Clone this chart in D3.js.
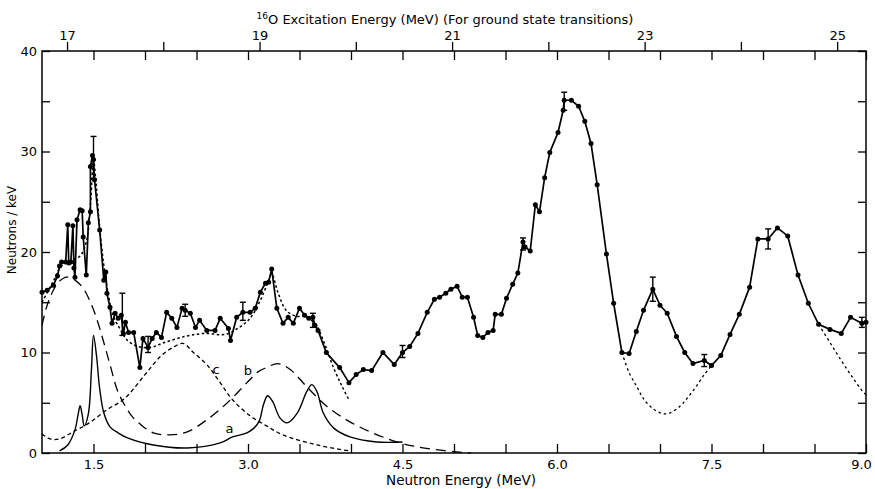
<!DOCTYPE html>
<html>
<head>
<meta charset="utf-8">
<script src="https://cdn.jsdelivr.net/npm/d3@7"></script>
<style>
  body { margin: 0; background: #fff; }
  svg text { font-family: "DejaVu Sans", sans-serif; fill: #000; }
</style>
</head>
<body>
<script>
// measured neutron spectrum: [neutron energy MeV, neutrons/keV]
const spectrum = [
  [1.00,16.0],[1.05,16.2],[1.11,16.7],[1.15,17.6],[1.17,18.6],[1.19,19.0],[1.23,19.0],
  [1.25,22.7],[1.26,18.9],[1.28,19.0],[1.30,22.6],[1.31,18.4],[1.32,17.5],[1.34,23.2],
  [1.37,24.2],[1.39,24.1],[1.40,21.5],[1.43,17.7],[1.45,22.9],[1.47,24.0],[1.47,28.5],
  [1.49,29.6],[1.50,29.2],[1.51,27.2],[1.56,22.2],[1.60,17.2],[1.62,18.0],[1.63,15.9],
  [1.66,14.5],[1.68,12.9],[1.71,13.9],[1.74,13.4],[1.77,13.7],[1.79,11.9],[1.81,13.0],
  [1.84,12.0],[1.89,12.0],[1.95,8.5],[1.98,11.4],[2.03,10.5],[2.07,11.4],[2.11,12.0],
  [2.16,11.5],[2.21,14.0],[2.26,13.4],[2.31,12.5],[2.36,14.4],[2.39,14.2],[2.44,13.9],
  [2.49,12.5],[2.53,13.2],[2.60,12.2],[2.68,12.2],[2.73,13.4],[2.81,12.4],[2.83,11.2],
  [2.89,13.5],[2.95,14.0],[3.02,14.0],[3.07,14.4],[3.12,16.0],[3.17,16.9],[3.20,17.0],
  [3.23,18.3],[3.28,14.4],[3.34,12.9],[3.39,13.5],[3.44,12.9],[3.50,14.4],[3.55,13.7],
  [3.59,13.4],[3.63,13.5],[3.65,12.7],[3.68,12.2],[3.76,10.0],[3.89,8.5],[3.98,7.0],
  [4.05,7.8],[4.12,8.3],[4.20,8.2],[4.31,10.0],[4.42,8.8],[4.50,10.0],[4.57,10.6],
  [4.65,11.9],[4.74,14.0],[4.81,15.3],[4.86,15.5],[4.92,15.9],[4.97,16.3],[5.03,16.6],
  [5.08,15.5],[5.13,15.5],[5.19,13.5],[5.23,11.7],[5.28,11.5],[5.33,12.0],[5.38,12.2],
  [5.40,13.8],[5.46,13.8],[5.51,15.4],[5.57,16.8],[5.62,17.9],[5.67,21.0],[5.69,20.5],
  [5.74,20.1],[5.79,24.7],[5.83,24.0],[5.88,27.4],[5.93,29.9],[6.01,31.9],[6.06,34.1],
  [6.07,35.1],[6.14,35.1],[6.21,34.5],[6.27,33.0],[6.33,30.8],[6.39,26.7],[6.48,19.8],
  [6.55,14.9],[6.63,10.0],[6.70,9.9],[6.77,12.1],[6.84,14.2],[6.93,16.3],[7.00,14.7],
  [7.07,13.9],[7.16,11.6],[7.24,10.0],[7.32,8.9],[7.43,9.2],[7.50,8.7],[7.59,9.7],
  [7.68,11.8],[7.77,13.8],[7.87,16.5],[7.95,21.3],[8.05,21.3],[8.14,22.4],[8.24,21.6],
  [8.34,17.7],[8.44,14.9],[8.54,12.8],[8.65,12.3],[8.76,11.9],[8.85,13.5],[8.96,12.9],
  [9.00,13.0]
];

// error bars: [energy, value, half-width]
const errors = [
  [1.50,29.4,2.1],[1.78,13.8,2.1],[2.03,10.8,0.8],[2.39,14.2,0.6],[2.95,14.1,0.9],
  [3.63,13.2,0.7],[4.50,10.1,0.6],[5.67,20.8,0.6],[6.07,35.0,0.9],[6.93,16.3,1.2],
  [7.43,9.2,0.6],[8.05,21.3,1.0],[8.96,13.0,0.5]
];

// dotted fits
const fitLow = [
  [1.00,15.0],[1.10,16.9],[1.19,18.6],[1.29,19.2],[1.37,19.6],[1.43,21.0],[1.47,24.7],
  [1.50,29.2],[1.52,27.4],[1.56,22.4],[1.60,18.7],[1.64,16.0],[1.69,13.7],[1.76,12.3],
  [1.83,11.2],[1.93,10.6],[2.05,10.5],[2.19,11.0],[2.39,11.6],[2.58,11.9],[2.78,11.8],
  [2.90,12.4],[3.02,13.4],[3.12,15.2],[3.19,16.9],[3.23,17.8],[3.29,16.0],[3.37,14.2],
  [3.47,13.6],[3.56,13.6],[3.66,12.7],[3.75,10.7],[3.83,8.5],[3.91,6.7],[3.98,5.3]
];
const fitValley = [
  [6.63,10.0],[6.70,8.0],[6.78,6.5],[6.84,5.4],[6.92,4.5],[7.00,4.0],[7.05,3.9],
  [7.10,4.0],[7.20,4.7],[7.26,5.4],[7.35,6.6],[7.43,7.8],[7.50,8.7]
];
const fitTail = [[8.54,12.8],[8.65,11.0],[8.76,9.2],[8.87,7.5],[8.97,6.1],[9.00,5.8]];

// component curves a (solid), b (long dash), c (short dash)
const compA = [
  [1.17,0.2],[1.25,0.8],[1.32,2.3],[1.35,3.8],[1.37,4.7],[1.39,3.8],[1.41,2.7],
  [1.45,3.9],[1.48,8.3],[1.50,11.7],[1.53,9.6],[1.56,6.4],[1.60,4.0],[1.66,2.6],
  [1.74,2.0],[1.83,1.5],[2.08,0.8],[2.41,0.5],[2.73,1.0],[2.85,1.6],[2.99,2.0],
  [3.06,2.5],[3.11,3.2],[3.15,4.8],[3.19,5.7],[3.24,5.1],[3.31,3.5],[3.38,3.0],
  [3.48,4.0],[3.57,6.1],[3.62,6.8],[3.67,6.1],[3.73,4.0],[3.83,2.5],[3.99,1.6],
  [4.25,1.1],[4.50,1.1]
];
const compB = [
  [1.00,12.7],[1.05,14.7],[1.11,16.2],[1.17,17.1],[1.24,17.5],[1.32,17.2],[1.40,16.4],
  [1.47,15.0],[1.53,13.4],[1.60,11.0],[1.66,8.8],[1.73,6.3],[1.79,5.0],[1.87,3.7],
  [1.95,2.9],[2.08,2.0],[2.24,1.8],[2.41,2.1],[2.60,3.3],[2.80,5.0],[2.99,7.0],
  [3.10,8.1],[3.18,8.5],[3.29,8.9],[3.41,8.3],[3.57,6.6],[3.77,4.6],[3.99,3.1],
  [4.21,2.0],[4.48,1.0],[4.77,0.4],[5.16,0.0]
];
const compC = [
  [1.00,1.9],[1.08,1.4],[1.17,1.4],[1.30,2.1],[1.46,3.0],[1.63,4.3],[1.80,5.4],
  [2.00,7.8],[2.15,9.6],[2.27,10.5],[2.37,10.9],[2.47,10.0],[2.60,8.8],[2.73,7.0],
  [2.85,5.3],[3.02,3.7],[3.18,2.7],[3.34,1.8],[3.67,0.8],[3.99,0.2]
];
const curveLabels = [["a",2.82,2.0],["b",3.00,7.8],["c",2.69,7.9]];

// axes
const yTicks = [0,5,10,15,20,25,30,35,40];
const xTicks = [1.5,2.0,2.5,3.0,3.5,4.0,4.5,5.0,5.5,6.0,6.5,7.0,7.5,8.0,8.5,9.0];
const exTicks = [17,18,19,20,21,22,23,24,25];
// 16O excitation energy vs neutron energy
const exRef = [17,25], enRef = [1.243,8.72];

let width = 875, height = 489;
let margin = {top: 51, right: 9, bottom: 36, left: 42};

let x = d3.scaleLinear().domain([1.0, 9.0]).range([margin.left, width - margin.right]);
let y = d3.scaleLinear().domain([0, 40]).range([height - margin.bottom, margin.top]);
let xEx = d3.scaleLinear().domain(exRef).range(enRef.map(x));

let svg = d3.select("body").append("svg").attr("width", width).attr("height", height);

function clean(g) {
  g.select(".domain").remove();
  g.selectAll("line").attr("stroke", "#000").attr("stroke-width", 1.3);
  g.selectAll("text").attr("font-size", 13);
}

let bottomAxis = svg.append("g")
  .attr("transform", `translate(0,${y(0)})`)
  .call(d3.axisBottom(x).tickValues(xTicks).tickSize(-9).tickPadding(7)
    .tickFormat(d => (Math.round(d * 10) % 15 === 0) ? d.toFixed(1) : ""))
  .call(clean);
bottomAxis.selectAll("text").filter(d => d === 9.0).attr("dx", -5);

svg.append("g")
  .attr("transform", `translate(0,${y(40)})`)
  .call(d3.axisTop(x).tickValues(xTicks).tickSize(-9).tickFormat(""))
  .call(clean);

svg.append("g")
  .attr("transform", `translate(0,${y(40)})`)
  .call(d3.axisTop(xEx).tickValues(exTicks).tickSize(9).tickPadding(2)
    .tickFormat(d => d % 2 ? d : ""))
  .call(clean);

svg.append("g")
  .attr("transform", `translate(${x(1.0)},0)`)
  .call(d3.axisLeft(y).tickValues(yTicks).tickSize(-8).tickPadding(5)
    .tickFormat(d => d % 10 ? "" : d))
  .call(clean);

svg.append("g")
  .attr("transform", `translate(${x(9.0)},0)`)
  .call(d3.axisRight(y).tickValues(yTicks).tickSize(-8).tickFormat(""))
  .call(clean);

svg.append("rect")
  .attr("x", x(1.0)).attr("y", y(40))
  .attr("width", x(9.0) - x(1.0)).attr("height", y(0) - y(40))
  .attr("fill", "none").attr("stroke", "#000").attr("stroke-width", 1.5);

// axis titles
let title = svg.append("text").attr("x", 445).attr("y", 24)
  .attr("text-anchor", "middle").attr("font-size", 13);
title.append("tspan").attr("font-size", 9).attr("dy", -5).text("16");
title.append("tspan").attr("dy", 5).text("O  Excitation  Energy  (MeV)  (For ground state transitions)");

svg.append("text").attr("x", 461).attr("y", 485)
  .attr("text-anchor", "middle").attr("font-size", 13.5)
  .text("Neutron  Energy  (MeV)");

svg.append("text")
  .attr("transform", "translate(16,230) rotate(-90)")
  .attr("text-anchor", "middle").attr("font-size", 12)
  .text("Neutrons / keV");

let line = d3.line().x(d => x(d[0])).y(d => y(d[1])).curve(d3.curveCatmullRom);
let poly = d3.line().x(d => x(d[0])).y(d => y(d[1]));

function draw(data, gen, dash, w) {
  svg.append("path").attr("d", gen(data))
    .attr("fill", "none").attr("stroke", "#000")
    .attr("stroke-width", w).attr("stroke-dasharray", dash);
}

draw(compC, line, "4,3", 1.3);
draw(compB, line, "10,6", 1.3);
draw(compA, line, null, 1.4);
draw(fitLow, line, "2.5,2.5", 1.5);
draw(fitValley, line, "2.5,3", 1.3);
draw(fitTail, line, "2.5,3", 1.3);
draw(spectrum, poly, null, 1.7);

svg.append("g").selectAll("circle").data(spectrum).join("circle")
  .attr("cx", d => x(d[0])).attr("cy", d => y(d[1])).attr("r", 2.5).attr("fill", "#000");

let eb = svg.append("g").attr("stroke", "#000").attr("stroke-width", 1.4);
errors.forEach(d => {
  let cx = x(d[0]), y0 = y(d[1] - d[2]), y1 = y(d[1] + d[2]);
  eb.append("line").attr("x1", cx).attr("x2", cx).attr("y1", y0).attr("y2", y1);
  eb.append("line").attr("x1", cx - 3).attr("x2", cx + 3).attr("y1", y0).attr("y2", y0);
  eb.append("line").attr("x1", cx - 3).attr("x2", cx + 3).attr("y1", y1).attr("y2", y1);
});

svg.append("g").selectAll("text").data(curveLabels).join("text")
  .attr("x", d => x(d[1])).attr("y", d => y(d[2]))
  .attr("text-anchor", "middle").attr("font-size", 13)
  .text(d => d[0]);
</script>
</body>
</html>
